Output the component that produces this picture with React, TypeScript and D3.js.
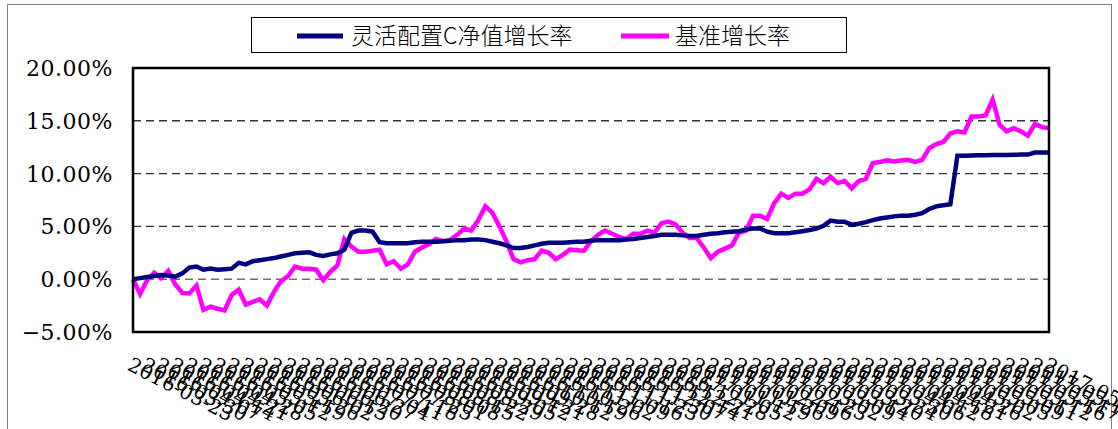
import React from 'react';
import * as d3 from 'd3';

// 灵活配置C净值增长率 (%), one reading every ~7px of the plot
const navSeries = [
  0.0, 0.1, 0.2, 0.3, 0.4, 0.35, 0.25, 0.55, 1.1, 1.2,
  0.9, 1.0, 0.9, 0.95, 1.0, 1.55, 1.4, 1.7, 1.8, 1.9,
  2.0, 2.15, 2.3, 2.45, 2.5, 2.55, 2.3, 2.2, 2.35, 2.45,
  2.8, 4.4, 4.6, 4.6, 4.5, 3.5, 3.4, 3.4, 3.4, 3.4,
  3.5, 3.55, 3.55, 3.55, 3.6, 3.65, 3.7, 3.7, 3.75, 3.75,
  3.7, 3.55, 3.4, 3.2, 2.95, 2.95, 3.05, 3.2, 3.35, 3.45,
  3.45, 3.45, 3.5, 3.55, 3.55, 3.65, 3.7, 3.7, 3.7, 3.7,
  3.75, 3.8, 3.9, 4.0, 4.1, 4.2, 4.2, 4.2, 4.15, 4.1,
  4.1, 4.2, 4.3, 4.35, 4.45, 4.5, 4.55, 4.7, 4.8, 4.8,
  4.5, 4.35, 4.35, 4.35, 4.45, 4.55, 4.65, 4.8, 5.05, 5.55,
  5.45, 5.45, 5.15, 5.25, 5.4, 5.6, 5.75, 5.85, 5.95, 6.0,
  6.0, 6.1, 6.25, 6.65, 6.9, 7.0, 7.1, 11.7, 11.7, 11.72,
  11.73, 11.74, 11.75, 11.76, 11.77, 11.78, 11.8, 11.8, 12.0, 12.0,
  12.0,
];

// 基准增长率 (%)
const benchSeries = [
  0.0, -1.4, -0.1, 0.6, 0.1, 0.8, -0.5, -1.3, -1.35, -0.6,
  -2.9, -2.6, -2.8, -2.95, -1.5, -1.0, -2.4, -2.15, -1.9, -2.5,
  -1.2, -0.2, 0.3, 1.2, 1.0, 1.0, 0.9, -0.1, 0.7, 1.3,
  3.8, 3.1, 2.6, 2.6, 2.7, 2.8, 1.4, 1.7, 1.0, 1.4,
  2.6, 3.0, 3.3, 3.8, 3.6, 3.7, 4.2, 4.8, 4.6, 5.6,
  6.9, 6.3, 5.0, 3.6, 1.9, 1.6, 1.8, 1.9, 2.7, 2.5,
  1.9, 2.3, 2.8, 2.75, 2.7, 3.6, 4.2, 4.6, 4.3, 4.0,
  3.8, 4.3, 4.3, 4.6, 4.4, 5.3, 5.45, 5.2, 4.4, 3.9,
  3.9, 3.0, 2.0, 2.6, 2.9, 3.2, 4.4, 4.6, 6.0, 6.0,
  5.7, 7.2, 8.1, 7.7, 8.1, 8.1, 8.5, 9.5, 9.1, 9.7,
  9.1, 9.3, 8.6, 9.3, 9.5, 11.0, 11.1, 11.25, 11.15, 11.25,
  11.3, 11.1, 11.3, 12.4, 12.8, 13.0, 13.8, 14.0, 13.9, 15.4,
  15.4, 15.5, 17.0, 14.6, 14.0, 14.3, 14.0, 13.6, 14.7, 14.4,
  14.3,
];

// one label for every second reading
const dateLabels = [
  '2016-03-23', '2016-03-30', '2016-04-07', '2016-04-14', '2016-04-21', '2016-04-28',
  '2016-05-05', '2016-05-12', '2016-05-19', '2016-05-26', '2016-06-02', '2016-06-13',
  '2016-06-20', '2016-06-27', '2016-07-04', '2016-07-11', '2016-07-18', '2016-07-25',
  '2016-08-01', '2016-08-08', '2016-08-15', '2016-08-22', '2016-08-29', '2016-09-05',
  '2016-09-12', '2016-09-21', '2016-09-28', '2016-10-12', '2016-10-19', '2016-10-26',
  '2016-11-02', '2016-11-09', '2016-11-16', '2016-11-23', '2016-11-30', '2016-12-07',
  '2016-12-14', '2016-12-21', '2016-12-28', '2017-01-05', '2017-01-12', '2017-01-19',
  '2017-01-26', '2017-02-09', '2017-02-16', '2017-02-23', '2017-03-02', '2017-03-09',
  '2017-03-14', '2017-03-20', '2017-03-24', '2017-03-30', '2017-04-06', '2017-04-12',
  '2017-04-18', '2017-04-21', '2017-04-26', '2017-05-02', '2017-05-05', '2017-05-09',
  '2017-05-11', '2017-05-12', '2017-05-16', '2017-05-17', '2017-05-19', '2017-05-22',
];

const yTicks = [-5, 0, 5, 10, 15, 20];
const gridTicks = [0, 5, 10, 15];

const seriesNames = ['灵活配置C净值增长率', '基准增长率'];
const seriesColors = ['#000080', '#FF00FF'];

const W = 1118;
const H = 429;
const plot = { left: 133, right: 1049, top: 68, bottom: 332 };

const App = () => {
  const x = d3.scaleLinear().domain([0, navSeries.length - 1]).range([plot.left, plot.right]);
  const y = d3.scaleLinear().domain([-5, 20]).range([plot.bottom, plot.top]);

  const line = d3
    .line<number>()
    .x((d, i) => x(i))
    .y((d) => y(d));

  const serif = 'DejaVu Serif, serif';
  const cjk = 'Noto Sans CJK SC, sans-serif';

  return (
    <svg
      width={W}
      height={H}
      style={{ position: 'absolute', left: 0, top: 0, background: '#fff' }}
    >
      {/* outer frame */}
      <rect x={7.5} y={4.5} width={1104} height={440} fill="none" stroke="#808080" strokeWidth={1} />

      {/* legend */}
      <rect x={251.5} y={17.5} width={595} height={35} fill="#fff" stroke="#000" strokeWidth={1} />
      <line x1={297} x2={343} y1={36} y2={36} stroke={seriesColors[0]} strokeWidth={5} />
      <text x={351} y={44} fontFamily={cjk} fontSize={23} fontWeight={300} fill="#000">{seriesNames[0]}</text>
      <line x1={621} x2={669} y1={36} y2={36} stroke={seriesColors[1]} strokeWidth={5} />
      <text x={675} y={44} fontFamily={cjk} fontSize={23} fontWeight={300} fill="#000">{seriesNames[1]}</text>

      {/* grid */}
      {gridTicks.map((t) => (
        <line
          key={t}
          x1={plot.left}
          x2={plot.right}
          y1={y(t)}
          y2={y(t)}
          stroke={t === 0 ? '#6e6e6e' : '#333'}
          strokeWidth={1.4}
          strokeDasharray="8,5"
        />
      ))}

      {/* y labels */}
      {yTicks.map((t) => (
        <text
          key={t}
          x={113}
          y={y(t) + 8}
          textAnchor="end"
          fontFamily={serif}
          fontSize={22}
          letterSpacing={0.5}
          fill="#000"
        >
          {d3.format('.2f')(t) + '%'}
        </text>
      ))}

      {/* series */}
      <path d={line(benchSeries) || ''} fill="none" stroke={seriesColors[1]} strokeWidth={4.5} />
      <path d={line(navSeries) || ''} fill="none" stroke={seriesColors[0]} strokeWidth={4.5} />

      {/* plot frame */}
      <rect
        x={plot.left}
        y={plot.top}
        width={plot.right - plot.left}
        height={plot.bottom - plot.top}
        fill="none"
        stroke="#000"
        strokeWidth={2.5}
      />

      {/* x labels */}
      {dateLabels.map((d, i) => (
        <text
          key={d + i}
          transform={`translate(${x(i * 2)},${356}) rotate(27)`}
          dy="0.75em"
          fontFamily={serif}
          fontSize={20}
          fill="#000"
        >
          {d}
        </text>
      ))}
    </svg>
  );
};

export default App;
